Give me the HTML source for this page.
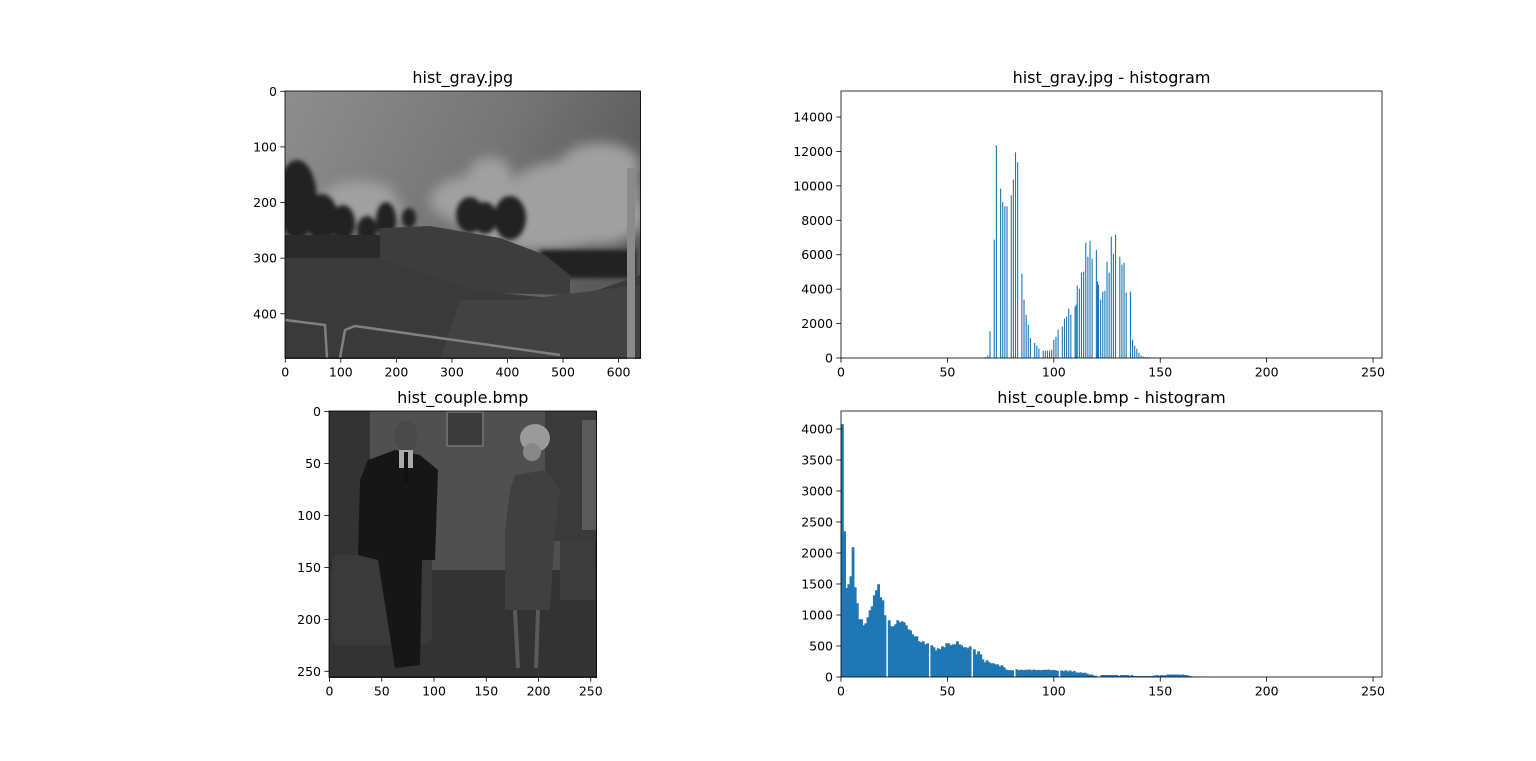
<!DOCTYPE html>
<html><head><meta charset="utf-8"><style>
body{margin:0;background:#fff;}
svg{display:block;font-family:"DejaVu Sans","Liberation Sans",sans-serif;}
</style></head><body>
<svg id="fig" width="1536" height="761" viewBox="0 0 1536 761" xmlns="http://www.w3.org/2000/svg">
<rect width="1536" height="761" fill="#fff"/>
<defs>
<linearGradient id="sky" x1="0" y1="0" x2="1" y2="0.4"><stop offset="0" stop-color="#8e8e8e"/><stop offset="0.6" stop-color="#747474"/><stop offset="1" stop-color="#5a5a5a"/></linearGradient>
<filter id="blur"><feGaussianBlur stdDeviation="6"/></filter>
<filter id="blur2"><feGaussianBlur stdDeviation="2"/></filter>
<clipPath id="c1"><rect x="285" y="91" width="356" height="268"/></clipPath>
<clipPath id="c2"><rect x="329" y="411" width="268" height="267"/></clipPath>
</defs>
<!-- top-left image -->
<g clip-path="url(#c1)">
<rect x="285" y="91" width="356" height="268" fill="url(#sky)"/>
<g fill="#a0a0a0" filter="url(#blur)">
<ellipse cx="600" cy="165" rx="40" ry="22"/><ellipse cx="575" cy="190" rx="65" ry="30"/><ellipse cx="490" cy="175" rx="22" ry="18"/>
<ellipse cx="480" cy="200" rx="50" ry="25"/><ellipse cx="360" cy="195" rx="35" ry="14"/><ellipse cx="600" cy="215" rx="45" ry="30"/>
<ellipse cx="540" cy="225" rx="80" ry="25"/><ellipse cx="350" cy="210" rx="55" ry="15"/>
</g>
<g fill="#242424" filter="url(#blur2)">
<ellipse cx="297" cy="200" rx="20" ry="40"/><ellipse cx="322" cy="218" rx="16" ry="24"/><ellipse cx="343" cy="223" rx="12" ry="18"/>
<ellipse cx="367" cy="230" rx="10" ry="14"/><ellipse cx="386" cy="220" rx="10" ry="18"/><ellipse cx="409" cy="218" rx="7" ry="10"/>
<ellipse cx="470" cy="215" rx="14" ry="18"/><ellipse cx="485" cy="218" rx="12" ry="16"/><ellipse cx="510" cy="218" rx="16" ry="22"/>
<rect x="540" y="250" width="96" height="28"/>
</g>
<rect x="285" y="235" width="100" height="35" fill="#2a2a2a"/>
<polygon points="380,228 430,226 500,238 545,255 570,275 570,295 380,290" fill="#3d3d3d"/>
<polygon points="285,258 380,258 470,290 570,300 640,275 641,359 285,359" fill="#3a3a3a"/>
<polygon points="460,300 520,300 640,285 641,359 440,359" fill="#424242"/>
<rect x="627" y="168" width="8" height="191" fill="#8a8a8a"/>
<g stroke="#808080" stroke-width="2.5" fill="none"><path d="M285 320 L325 325 L327 358"/><path d="M340 358 L345 330 L355 326 L560 355"/></g>
</g>
<!-- bottom-left image -->
<g clip-path="url(#c2)">
<rect x="329" y="411" width="268" height="267" fill="#2c2c2c"/>
<rect x="370" y="411" width="190" height="160" fill="#505050"/>
<rect x="330" y="411" width="40" height="150" fill="#333"/>
<rect x="447" y="412" width="36" height="34" fill="#3a3a3a" stroke="#6a6a6a" stroke-width="2"/>
<rect x="545" y="411" width="52" height="130" fill="#3a3a3a"/>
<rect x="582" y="420" width="15" height="110" fill="#5a5a5a"/>
<rect x="329" y="570" width="268" height="108" fill="#333"/>
<rect x="332" y="555" width="100" height="90" fill="#3a3a3a" rx="8"/>
<rect x="560" y="540" width="35" height="60" fill="#3c3c3c"/>
<polygon points="368,460 395,450 420,455 438,470 435,560 422,560 420,665 395,668 378,560 358,555 360,480" fill="#161616"/>
<ellipse cx="406" cy="436" rx="12" ry="15" fill="#4a4a4a"/>
<rect x="399" y="450" width="14" height="18" fill="#aaa"/>
<rect x="404" y="452" width="4" height="30" fill="#111"/>
<ellipse cx="535" cy="438" rx="15" ry="14" fill="#9a9a9a"/>
<ellipse cx="532" cy="452" rx="9" ry="9" fill="#888"/>
<polygon points="515,475 545,470 560,490 555,530 550,610 505,610 505,530 510,490" fill="#404040"/>
<g stroke="#5a5a5a" stroke-width="4"><line x1="515" y1="610" x2="518" y2="668"/><line x1="538" y1="610" x2="536" y2="668"/></g>
</g>
<g id="axes"></g>
</svg>
<script>
// ---- data: top histogram (hist_gray.jpg) ----
const grayBins = [68,69,70,72,73,75,76,77,78,80,81,82,83,85,86,87,88,89,91,92,93,95,96,97,98,99,100,101,102,104,105,106,107,108,110,110.5,111,112,113,114,115,116,117,118,120,120.5,121,122,123,124,125,126,127,128,129,131,132,133,134,136,137,138,139,140,141,142,143,144,145,146,147,148,150];
const grayCounts = [60,150,1550,6877,12358,9840,9065,8813,8813,9453,10363,11951,11370,4900,3390,2518,1937,1162,872,717,542,426,426,426,426,484,1065,1240,1646,1820,2286,2402,2867,2518,2983,3099,4203,4029,4959,5017,6702,5888,6818,5772,6295,4436,4261,3390,3855,3913,5598,4959,7051,6063,7167,5888,5424,5540,3797,3855,1065,717,542,310,136,80,60,50,40,40,30,25,20];
const grayXTicks = [0,50,100,150,200,250];
const grayYTicks = [0,2000,4000,6000,8000,10000,12000,14000];
// ---- data: bottom histogram (hist_couple.bmp), bins 0.. ----
const coupleCounts = [4078,2351,1436,1496,1625,2093,1447,1189,931,931,834,866,963,1076,1140,1318,1399,1496,1286,1237,995,0,915,818,818,850,915,882,898,882,834,769,753,689,656,656,576,560,576,527,543,0,511,479,430,463,447,495,479,543,543,511,527,527,576,527,511,479,479,463,495,0,447,366,414,366,285,237,269,237,221,221,204,204,172,188,156,120,110,110,108,0,124,108,118,112,115,118,120,110,120,110,115,110,112,118,115,120,108,115,110,100,0,105,95,108,90,105,85,95,75,70,75,65,70,55,40,40,25,20,8,5,32,32,32,32,32,32,32,32,15,32,32,32,32,20,30,15,15,15,15,15,15,15,15,15,20,25,30,20,30,25,30,40,40,40,40,40,40,35,40,30,30,15,10,8,6,5,5,5,4,4,4,4,3,3,3,3,3,3,3,3,3,3,3,3,3,3,2,2,2,2,2,2,2,2,2,2,2,2,2,2,2,2,2,2,2,2,2,2,2,2,2,2,2,2,2,2,2,2,2,2,2,2,2,2,2,2,2,2,2,2,2,2,2,2,2,2,2,2,2,2,2,2,2,2,2,2,2,2,2,2,2,2];
const coupleXTicks = [0,50,100,150,200,250];
const coupleYTicks = [0,500,1000,1500,2000,2500,3000,3500,4000];
const img1XTicks = [0,100,200,300,400,500,600];
const img1YTicks = [0,100,200,300,400];
const img2Ticks = [0,50,100,150,200,250];

const NS="http://www.w3.org/2000/svg";
const root=document.getElementById('axes');
function mk(tag,attrs,parent){const e=document.createElementNS(NS,tag);for(const k in attrs)e.setAttribute(k,attrs[k]);(parent||root).appendChild(e);return e;}
function scale(d0,d1,r0,r1){return v=>r0+(v-d0)/(d1-d0)*(r1-r0);}

function axes(name,x0,y0,w,h,xs,ys,xt,yt,title){
  const g=mk('g',{});
  
  
  const f=mk('rect',{x:x0,y:y0,width:w,height:h,fill:'none',stroke:'#000','stroke-width':0.8},g);
  
  
  xt.forEach(v=>{const x=xs(v);
    const t=mk('line',{x1:x,x2:x,y1:y0+h,y2:y0+h+4.7,stroke:'#000','stroke-width':0.8},g);
    
    
    const l=mk('text',{x:x,y:y0+h+18.5,'text-anchor':'middle','font-size':12.5},g);l.textContent=v;
    
    });
  yt.forEach(v=>{const y=ys(v);
    const t=mk('line',{x1:x0-4.7,x2:x0,y1:y,y2:y,stroke:'#000','stroke-width':0.8},g);
    
    
    const l=mk('text',{x:x0-8,y:y+4.5,'text-anchor':'end','font-size':12.5},g);l.textContent=v;
    
    });
  const tt=mk('text',{x:x0+w/2,y:y0-8,'text-anchor':'middle','font-size':16},g);tt.textContent=title;
  
  
  return g;
}
axes('hist-gray-image-axes',285,91,355.5,267,scale(-0.5,639.5,285,640.5),scale(-0.5,479.5,91,358),img1XTicks,img1YTicks,'hist_gray.jpg');
axes('hist-couple-image-axes',329,411,267.5,266,scale(-0.5,255.5,329,596.5),scale(-0.5,255.5,411,677),img2Ticks,img2Ticks,'hist_couple.bmp');

{
  const xs=scale(0,254.2,841,1382), ys=scale(0,15512,358,91);
  const g=mk('g',{});
  
  
  grayBins.forEach((b,i)=>{const v=grayCounts[i];
    const r=mk('rect',{x:xs(b)-0.55,y:ys(v),width:1.1,height:358-ys(v),fill:'#1f77b4'},g);
    
    });
  axes('gray-histogram-axes',841,91,541,267,xs,ys,grayXTicks,grayYTicks,'hist_gray.jpg - histogram');
}
{
  const xs=scale(0,254.2,841,1382), ys=scale(0,4290,677,411);
  const g=mk('g',{});
  
  
  coupleCounts.forEach((v,i)=>{ if(v<=0)return;
    const r=mk('rect',{x:xs(i),y:ys(v),width:xs(i+1)-xs(i)+0.7,height:677-ys(v),fill:'#1f77b4'},g);
    
    });
  axes('couple-histogram-axes',841,411,541,266,xs,ys,coupleXTicks,coupleYTicks,'hist_couple.bmp - histogram');
}
</script>
</body></html>
